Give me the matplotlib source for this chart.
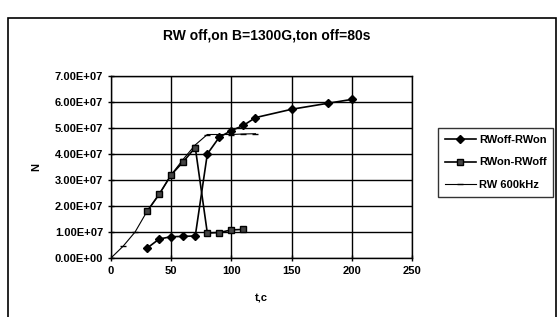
import matplotlib.pyplot as plt
from matplotlib.patches import Rectangle
from matplotlib.ticker import FuncFormatter, MultipleLocator

plt.rcParams['font.family'] = ['Liberation Sans', 'DejaVu Sans']

# RWoff-RWon (diamonds)
t_off_on = [30, 40, 50, 60, 70, 80, 90, 100, 110, 120, 150, 180, 200]
n_off_on = [0.38e7, 0.73e7, 0.82e7, 0.83e7, 0.85e7, 4.0e7, 4.65e7, 4.9e7,
            5.1e7, 5.4e7, 5.72e7, 5.95e7, 6.1e7]

# RWon-RWoff (squares)
t_on_off = [30, 40, 50, 60, 70, 80, 90, 100, 110]
n_on_off = [1.8e7, 2.45e7, 3.2e7, 3.7e7, 4.25e7, 0.96e7, 0.98e7, 1.08e7, 1.1e7]

# RW 600kHz
t_600 = [0, 10, 20, 30, 40, 50, 60, 70, 80, 90, 100, 110, 120]
n_600 = [0, 0.45e7, 1.0e7, 1.8e7, 2.45e7, 3.2e7, 3.8e7, 4.35e7, 4.75e7,
         4.75e7, 4.75e7, 4.77e7, 4.78e7]

labels = ['RWoff-RWon', 'RWon-RWoff', 'RW 600kHz']

fig = plt.figure(figsize=(5.59, 3.17), dpi=100)
fig.patches.append(Rectangle((8 / 559, -0.05), 548 / 559, 1 - 18 / 317 + 0.05,
                             transform=fig.transFigure, fill=False,
                             edgecolor='black', linewidth=1.2))

ax = fig.add_axes([111 / 559, 1 - 258 / 317, 301 / 559, 182 / 317])

ax.plot(t_off_on, n_off_on, color='black', lw=1.2, marker='D', ms=4,
        mfc='black', mec='black', label=labels[0], zorder=3)
ax.plot(t_on_off, n_on_off, color='black', lw=1.2, marker='s', ms=4,
        mfc='#444444', mec='black', label=labels[1], zorder=3)
ax.plot(t_600, n_600, color='black', lw=0.8, marker='_', ms=4,
        mec='black', label=labels[2], zorder=2)

ax.set_xlim(0, 250)
ax.set_ylim(0, 7e7)
ax.xaxis.set_major_locator(MultipleLocator(50))
ax.yaxis.set_major_locator(MultipleLocator(1e7))
ax.yaxis.set_major_formatter(FuncFormatter(
    lambda v, p: '%.2fE+%02d' % (v / 1e7, 7) if v else '0.00E+00'))
ax.grid(True, color='black', linewidth=1.0)
ax.set_axisbelow(True)
for s in ax.spines.values():
    s.set_linewidth(1.0)
ax.tick_params(direction='inout', length=5, width=1, labelsize=8, pad=3)
for lab in ax.get_xticklabels() + ax.get_yticklabels():
    lab.set_fontweight('bold')

ax.set_xlabel('t,c', fontsize=8, fontweight='bold', labelpad=13)
ax.set_ylabel('N', fontsize=8, fontweight='bold', labelpad=10)

fig.text(267 / 559, 1 - 35 / 317, 'RW off,on B=1300G,ton off=80s',
         ha='center', va='center', fontsize=10, fontweight='bold')

leg = fig.legend(loc='upper left', bbox_to_anchor=(438 / 559, 1 - 128 / 317),
                 prop={'size': 8, 'weight': 'bold'}, frameon=True,
                 fancybox=False, edgecolor='black', handlelength=2.8,
                 borderpad=0.6, labelspacing=1.15, handletextpad=0.3,
                 borderaxespad=0)
leg.get_frame().set_linewidth(1.0)

fig.savefig('out.png', dpi=100)
